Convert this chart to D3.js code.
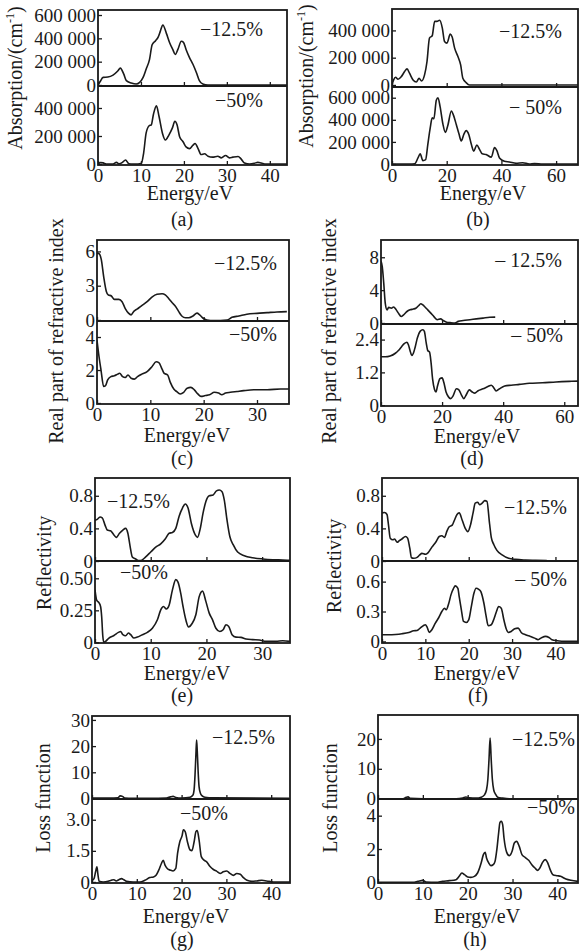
<!DOCTYPE html>
<html><head><meta charset="utf-8">
<script src="https://cdn.jsdelivr.net/npm/d3@7"></script>
<style>
body{margin:0;background:#fff}
svg text{font-family:"Liberation Serif","Times New Roman",serif;fill:#1a1a1a}
</style></head><body>
<svg id="chart" width="579" height="952"></svg>
<script>
// ---------------- DATA (energy eV, value) ----------------
const absA_125 = [[0,0],[0.5,30000],[1.2,65000],[2.3,68000],[3.5,85000],[4.6,120000],[5.2,145000],[6,93000],[6.6,37000],[7.75,17000],[8.9,8000],[9.7,22000],[10.5,65000],[11.2,135000],[12,220000],[12.6,345000],[13.4,380000],[14,410000],[14.5,460000],[15.1,515000],[15.9,445000],[16.7,360000],[17.4,305000],[18,262000],[18.6,305000],[19.4,375000],[19.9,366000],[20.5,305000],[21.3,235000],[22.1,178000],[22.9,107000],[23.6,37000],[24.4,8000],[25.6,0],[30,0],[44,0]];
const absA_50 = [[0,0],[0.6,10000],[1.2,8000],[1.9,0],[3.5,0],[4.3,12000],[4.9,2000],[5.7,12000],[6.4,29000],[7.2,2000],[8.1,0],[9.3,0],[10.1,5000],[10.6,73000],[11.2,220000],[11.9,273000],[12.4,280000],[12.9,354000],[13.6,415000],[14.2,341000],[15,220000],[15.7,171000],[16.5,207000],[17.3,256000],[17.9,305000],[18.4,280000],[19,195000],[19.8,159000],[20.5,122000],[21.3,110000],[22.1,134000],[22.6,146000],[23.3,110000],[24,68000],[24.8,73000],[25.6,56000],[26.7,49000],[27.9,56000],[28.7,44000],[29.7,61000],[30.6,44000],[31.4,49000],[32.6,54000],[33.3,37000],[34.1,7000],[35.3,0],[36.4,5000],[37.2,12000],[38,7000],[39.1,0],[44,0]];
const absB_125 = [[0,0],[0.6,37000],[1.3,56000],[2.2,42000],[3.4,61000],[4.6,98000],[5.5,118000],[6.4,86000],[7.7,37000],[8.9,22000],[9.9,49000],[10.8,29000],[11.9,74000],[12.8,172000],[13.7,344000],[14.7,361000],[15.6,466000],[16.4,466000],[17.4,474000],[18.4,417000],[19.2,319000],[20.1,307000],[21.3,373000],[22,351000],[22.9,270000],[24.1,209000],[25.1,147000],[25.9,49000],[27.1,17000],[28.3,0],[68,0]];
const absB_50 = [[0,0],[6.4,0],[8.3,2000],[9.5,55000],[10.3,92000],[11.3,31000],[12.3,40000],[13.1,178000],[14,332000],[14.7,418000],[15.3,409000],[16.2,578000],[16.8,600000],[17.6,517000],[18.6,363000],[19.5,286000],[20.4,348000],[21.7,480000],[22.5,440000],[23.5,357000],[24.5,271000],[25.3,209000],[26.3,271000],[27.1,302000],[28.1,265000],[29,178000],[29.9,117000],[31,172000],[32,132000],[33,92000],[34.4,86000],[36.3,62000],[37.5,148000],[38.3,123000],[39.3,55000],[41.1,25000],[42.9,18000],[45.4,6000],[47.8,12000],[50.2,0],[52.1,5000],[55.1,0],[68,0]];
const nC_125 = [[0,5.85],[0.4,5.8],[0.8,5.3],[1.25,3.8],[1.75,2.5],[2.1,2.2],[2.7,2.1],[3.25,1.8],[4.1,1.8],[4.7,1.6],[5.3,1.0],[5.9,0.6],[6.4,0.45],[6.9,0.75],[7.5,0.95],[8.4,1.25],[9.4,1.6],[10.3,2.0],[11.25,2.25],[12.2,2.3],[12.8,2.2],[13.4,1.9],[14.1,1.5],[14.7,1.2],[15.3,0.75],[15.9,0.35],[16.6,0.2],[17.2,0.2],[18,0.35],[18.75,0.6],[19.25,0.45],[19.9,0.15],[20.6,0.0],[21.9,-0.05],[24.4,0],[25.3,0.23],[26.6,0.35],[28.1,0.5],[30,0.58],[31.9,0.64],[33.75,0.7],[35.6,0.73]];
const nC_50 = [[0,3.8],[0.3,3.0],[0.75,2.0],[1.25,1.0],[1.6,1.05],[2,1.4],[2.6,1.6],[3.25,1.65],[3.9,1.75],[4.25,1.8],[4.8,1.6],[5.3,1.55],[5.8,1.7],[6.4,1.5],[7,1.45],[7.6,1.6],[8.4,1.75],[9.4,1.9],[10.3,2.2],[11.1,2.5],[11.6,2.45],[12.2,2.05],[12.6,1.8],[13.25,1.7],[13.75,1.25],[14.4,0.85],[14.9,0.7],[15.6,0.55],[16.25,0.65],[16.9,0.9],[17.6,0.95],[18.25,0.8],[18.9,0.55],[19.5,0.4],[20.3,0.45],[21.1,0.5],[22,0.65],[22.8,0.6],[23.4,0.5],[24.1,0.6],[25,0.65],[26.25,0.7],[27.5,0.75],[29.4,0.8],[31.9,0.8],[34.4,0.85],[36,0.85]];
const nD_125 = [[0,7.5],[0.4,6.9],[0.9,4.85],[1.4,2.4],[2,1.6],[2.5,1.9],[3.4,1.8],[4.1,1.95],[5,1.6],[5.7,1.2],[6.6,0.8],[7.4,1.0],[8.5,1.4],[9.5,1.6],[10.6,1.7],[11.4,1.8],[12.3,2.1],[13,2.35],[13.7,2.2],[14.4,1.95],[15.3,1.6],[16.3,1.2],[17.4,0.75],[18.4,0.4],[19.5,0.5],[20.4,0.3],[21.5,0.1],[22.6,0.05],[24.2,0],[25.3,0.2],[26.9,0.3],[29.1,0.4],[31.2,0.5],[33.4,0.6],[35.6,0.7],[37.4,0.72]];
const nD_50 = [[0,1.77],[1.4,1.77],[3,1.8],[4.7,1.9],[5.7,2.0],[6.8,2.15],[7.6,2.25],[8.5,2.3],[9,2.2],[9.5,2.0],[10.1,1.82],[10.6,1.9],[11.2,2.13],[11.9,2.46],[12.8,2.7],[13.7,2.76],[14.2,2.7],[14.8,2.28],[15.3,2.0],[15.9,1.94],[16.4,1.55],[16.9,0.95],[17.5,0.58],[18,0.48],[18.5,0.7],[19.3,0.97],[20,1.0],[20.6,0.82],[21.3,0.48],[22,0.32],[22.8,0.24],[23.6,0.34],[24.7,0.6],[25.5,0.56],[26.4,0.36],[27.1,0.24],[28,0.4],[28.9,0.56],[29.9,0.48],[30.7,0.44],[31.8,0.53],[33.4,0.6],[35,0.68],[36.1,0.73],[36.9,0.64],[37.7,0.52],[38.8,0.6],[40.5,0.7],[42.6,0.73],[45.3,0.76],[48.6,0.8],[52.9,0.82],[57.3,0.85],[61.6,0.87],[64.5,0.88]];
const RE_125 = [[0,0.50],[0.4,0.51],[0.9,0.54],[1.3,0.53],[1.8,0.44],[2.2,0.38],[2.8,0.37],[3.4,0.32],[3.8,0.29],[4.4,0.34],[5,0.38],[5.5,0.40],[5.9,0.34],[6.3,0.18],[6.7,0.05],[7.3,0.025],[7.9,0.005],[8.4,0.01],[9.1,0.05],[10,0.11],[10.9,0.17],[11.8,0.21],[12.6,0.27],[13.3,0.34],[13.9,0.35],[14.5,0.40],[15.1,0.55],[15.7,0.65],[16.2,0.70],[16.7,0.65],[17.3,0.46],[18,0.32],[18.4,0.29],[18.9,0.40],[19.4,0.59],[19.9,0.73],[20.5,0.80],[21.2,0.81],[21.8,0.86],[22.3,0.87],[22.8,0.85],[23.2,0.75],[23.7,0.50],[24.2,0.30],[24.8,0.20],[25.6,0.11],[26.8,0.065],[28.3,0.04],[30.1,0.025],[31.9,0.016],[33.7,0.012],[35,0.008]];
const RE_50 = [[0,0.41],[0.3,0.33],[0.7,0.31],[1,0.28],[1.2,0.20],[1.4,0.05],[1.6,0],[1.9,0.008],[2.5,0.034],[3.4,0.054],[4.2,0.078],[4.6,0.085],[5,0.06],[5.5,0.052],[6,0.073],[6.4,0.06],[7,0.034],[7.6,0.041],[8.5,0.06],[9.4,0.078],[10.3,0.11],[11.2,0.176],[11.8,0.254],[12.3,0.28],[12.8,0.26],[13.3,0.29],[13.9,0.41],[14.5,0.49],[14.9,0.47],[15.4,0.38],[15.8,0.28],[16.3,0.176],[16.8,0.12],[17.4,0.145],[18.1,0.215],[18.7,0.357],[19.3,0.40],[19.9,0.32],[20.5,0.228],[21.1,0.176],[21.7,0.11],[22.4,0.085],[23,0.098],[23.5,0.137],[24,0.124],[24.6,0.06],[25.3,0.041],[26.2,0.039],[27.1,0.026],[28.3,0.021],[29.5,0.018],[30.7,0.008],[32.5,0.008],[33.7,0.013],[35,0.008]];
const RF_125 = [[0,0.59],[0.6,0.595],[1.15,0.57],[1.5,0.44],[1.9,0.28],[2.5,0.26],[2.9,0.27],[3.5,0.23],[4,0.25],[4.6,0.27],[5.4,0.30],[5.9,0.28],[6.4,0.16],[6.8,0.04],[7.3,0.033],[8.1,0.045],[8.7,0.074],[9.2,0.094],[10,0.082],[10.6,0.10],[11.5,0.17],[12.5,0.24],[13.2,0.30],[13.8,0.31],[14.4,0.29],[15,0.37],[15.5,0.42],[16.2,0.44],[16.7,0.50],[17.3,0.57],[17.8,0.59],[18.5,0.50],[19.2,0.40],[19.8,0.36],[20.4,0.44],[21,0.59],[21.5,0.71],[22.1,0.72],[22.5,0.69],[23.1,0.71],[23.7,0.74],[24.2,0.73],[24.8,0.46],[25.2,0.29],[25.8,0.20],[26.5,0.13],[27.7,0.074],[29.2,0.033],[30.8,0.02],[33.1,0.012],[35.4,0.008],[38,0.004]];
const RF_50 = [[0,0.067],[1.5,0.067],[3.1,0.07],[4.6,0.077],[6.2,0.09],[7.3,0.107],[8.1,0.11],[8.8,0.133],[9.6,0.16],[10,0.167],[10.4,0.143],[10.9,0.09],[11.5,0.117],[12.3,0.183],[13.1,0.24],[13.8,0.30],[14.4,0.333],[14.8,0.317],[15.4,0.383],[15.9,0.467],[16.5,0.533],[16.9,0.557],[17.5,0.533],[17.8,0.45],[18.3,0.317],[18.8,0.20],[19.4,0.19],[20,0.217],[20.6,0.35],[21.2,0.483],[21.7,0.533],[22.3,0.523],[22.8,0.50],[23.5,0.383],[24,0.257],[24.5,0.157],[25.2,0.167],[25.8,0.223],[26.4,0.30],[26.9,0.35],[27.5,0.333],[28.1,0.217],[28.6,0.133],[29.2,0.09],[29.8,0.10],[30.6,0.127],[31.4,0.133],[32.1,0.09],[33.1,0.067],[34.2,0.05],[35.2,0.033],[36,0.017],[36.9,0.04],[37.7,0.05],[38.5,0.04],[39.2,0.017],[40.4,0.007],[42.3,0],[45.2,0]];
const LG_125 = [[0,0.2],[4,0.2],[5.8,0.3],[6.3,1.0],[6.8,0.8],[7.3,0.2],[9.2,0.1],[12.9,0.1],[16.6,0.2],[17.5,0.6],[18.1,0.8],[18.7,0.4],[20,0.2],[21.9,0.5],[22.5,1.2],[22.8,3.5],[23.0,9],[23.2,17],[23.35,22.3],[23.5,18],[23.7,10],[23.9,4.5],[24.2,2],[24.6,1],[25.2,0.5],[27.1,0.25],[44,0.1]];
const LG_50 = [[0,0.08],[0.45,0.16],[0.8,0.49],[1.1,0.73],[1.3,0.4],[1.6,0.03],[2.5,0],[3.6,0.03],[4.3,0.08],[4.9,0.11],[5.4,0.05],[6,0.11],[6.6,0.16],[7.1,0.11],[7.7,0.03],[9.2,0],[10.7,0],[11.8,0.08],[12.9,0.21],[13.7,0.24],[14.3,0.32],[14.9,0.57],[15.5,0.89],[15.9,1.05],[16.3,0.81],[16.8,0.65],[17.5,0.57],[18.1,0.53],[18.7,0.65],[19.1,1.38],[19.6,1.94],[20.1,2.22],[20.4,2.51],[20.8,2.43],[21.3,1.94],[21.9,1.54],[22.3,1.51],[22.8,1.94],[23.2,2.43],[23.5,2.48],[23.9,2.03],[24.4,1.22],[25,1.05],[25.6,0.97],[26.3,0.76],[27.1,0.6],[27.8,0.52],[28.6,0.41],[29.3,0.49],[30.1,0.53],[30.8,0.41],[31.6,0.32],[32.3,0.41],[33.1,0.37],[33.8,0.21],[34.6,0.08],[35.7,0.03],[36.8,0.05],[37.9,0.08],[39,0.05],[40.5,0],[44.3,0]];
const LH_125 = [[0,0],[5.6,0],[6.3,0.45],[6.7,0.6],[7.2,0.1],[10,0],[17.4,0],[18.9,0.2],[19.6,0.55],[20.4,0.3],[21.9,0.2],[23,0.5],[23.7,1.2],[24.2,3],[24.5,6.5],[24.75,13],[25,20.3],[25.25,13],[25.5,6.5],[25.8,3],[26.2,1.5],[26.7,0.5],[27.8,0.2],[29.3,0],[45,0]];
const LH_50 = [[0,0],[7.8,0],[8.9,0.06],[10,0.12],[10.7,0.02],[13,0],[14.4,0.06],[15.9,0.1],[17.4,0.16],[18.1,0.36],[18.7,0.56],[19.3,0.46],[20,0.32],[20.7,0.3],[21.5,0.36],[22.2,0.56],[23,1.16],[23.5,1.66],[23.9,1.8],[24.2,1.46],[24.7,1.16],[25.2,1.0],[25.7,1.06],[26.1,1.26],[26.5,1.96],[26.9,2.96],[27.2,3.6],[27.5,3.66],[27.8,3.46],[28.1,2.66],[28.7,1.8],[29.3,1.6],[29.9,1.86],[30.4,2.36],[30.9,2.46],[31.5,2.16],[32.1,1.66],[32.8,1.5],[33.6,1.32],[34.3,1.06],[35,0.86],[35.6,0.72],[36.1,0.86],[36.7,1.2],[37.3,1.36],[37.8,1.2],[38.4,0.76],[39,0.46],[40,0.4],[40.7,0.36],[41.9,0.2],[43,0.12],[44.6,0.06]];

// tick values and labels
const absTicks = [0, 200000, 400000, 600000];
const absTickLabels = ["0", "200 000", "400 000", "600 000"];
const xTicks10 = [0, 10, 20, 30, 40];
const xTicks20 = [0, 20, 40, 60];
const strainLabels = ["−12.5%", "−50%"];

// ---------------- LAYOUT ----------------
const panels = [
 {x0:98, x1:287, top:10, div:86, bot:165, xDom:[0,44], xt:xTicks10,
  subs:[{d:absA_125, yDom:[-8600,643000], yt:absTicks, yl:absTickLabels, lab:strainLabels[0], lx:263, ly:36, la:"end"},
        {d:absA_50, yDom:[-7000,557000], yt:absTicks.slice(0,3), yl:absTickLabels.slice(0,3), lab:strainLabels[1], lx:263, ly:107, la:"end"}],
  ylab:"abs", yx:22, yy:78, ex:190, ey:200, cap:"(a)", cx:182, cy:226},
 {x0:392, x1:578, top:9, div:87, bot:165, xDom:[0,68], xt:xTicks20,
  subs:[{d:absB_125, yDom:[-15000,557000], yt:absTicks.slice(0,3), yl:absTickLabels.slice(0,3), lab:strainLabels[0], lx:562, ly:38, la:"end"},
        {d:absB_50, yDom:[-9000,697000], yt:absTicks, yl:absTickLabels, lab:"− 50%", lx:562, ly:114, la:"end"}],
  ylab:"abs", yx:313, yy:76, ex:483, ey:200, cap:"(b)", cx:478, cy:226},
 {x0:97, x1:289, top:240, div:321, bot:404, xDom:[0,36], xt:[0,10,20,30],
  subs:[{d:nC_125, yDom:[-0.09,7.0], yt:[0,3,6], yl:["0","3","6"], lab:strainLabels[0], lx:277, ly:270, la:"end"},
        {d:nC_50, yDom:[-0.06,4.97], yt:[0,2,4], yl:["0","2","4"], lab:strainLabels[1], lx:277, ly:341, la:"end"}],
  ylab:"Real part of refractive index", yx:63, yy:331, ex:187, ey:442, cap:"(c)", cx:182, cy:465},
 {x0:381, x1:578, top:240, div:324, bot:406, xDom:[0,64.5], xt:xTicks20,
  subs:[{d:nD_125, yDom:[-0.12,10.1], yt:[0,4,8], yl:["0","4","8"], lab:"– 12.5%", lx:562, ly:267, la:"end"},
        {d:nD_50, yDom:[-0.03,2.97], yt:[0,1.2,2.4], yl:["0","1.2","2.4"], lab:"– 50%", lx:563, ly:342, la:"end"}],
  ylab:"Real part of refractive index", yx:336, yy:331, ex:477, ey:443, cap:"(d)", cx:472, cy:465},
 {x0:95, x1:290, top:478, div:561, bot:643, xDom:[0,35], xt:[0,10,20,30],
  subs:[{d:RE_125, yDom:[0,1.018], yt:[0,0.4,0.8], yl:["0","0.4","0.8"], lab:strainLabels[0], lx:107, ly:508, la:"start"},
        {d:RE_50, yDom:[-0.005,0.635], yt:[0,0.25,0.5], yl:["0","0.25","0.50"], lab:strainLabels[1], lx:120, ly:579, la:"start"}],
  ylab:"Reflectivity", yx:51, yy:563, ex:187, ey:680, cap:"(e)", cx:182, cy:702},
 {x0:382, x1:578, top:478, div:561, bot:643, xDom:[0,45.2], xt:xTicks10,
  subs:[{d:RF_125, yDom:[0,1.018], yt:[0,0.4,0.8], yl:["0","0.4","0.8"], lab:strainLabels[0], lx:567, ly:514, la:"end"},
        {d:RF_50, yDom:[-0.016,0.807], yt:[0,0.3,0.6], yl:["0","0.3","0.6"], lab:"– 50%", lx:567, ly:586, la:"end"}],
  ylab:"Reflectivity", yx:341, yy:566, ex:477, ey:680, cap:"(f)", cx:478, cy:702},
 {x0:92, x1:290, top:716, div:799, bot:883, xDom:[0,44.2], xt:xTicks10,
  subs:[{d:LG_125, yDom:[-0.2,31.5], yt:[0,10,20,30], yl:["0","10","20","30"], lab:strainLabels[0], lx:275, ly:744, la:"end"},
        {d:LG_50, yDom:[-0.05,4.0], yt:[0,1.5,3.0], yl:["0","1.5","3.0"], lab:strainLabels[1], lx:180, ly:820, la:"start"}],
  ylab:"Loss function", yx:50, yy:798, ex:186, ey:923, cap:"(g)", cx:182, cy:946},
 {x0:378, x1:578, top:715, div:799, bot:883, xDom:[0,44.6], xt:xTicks10,
  subs:[{d:LH_125, yDom:[-0.1,28], yt:[0,10,20], yl:["0","10","20"], lab:strainLabels[0], lx:575, ly:746, la:"end"},
        {d:LH_50, yDom:[-0.04,5.0], yt:[0,2,4], yl:["0","2","4"], lab:strainLabels[1], lx:575, ly:814, la:"end"}],
  ylab:"Loss function", yx:337, yy:798, ex:477, ey:923, cap:"(h)", cx:475, cy:946}
];

const INK = "#1a1a1a";
const svg = d3.select("#chart");
let clipId = 0;

panels.forEach(p => {
  const g = svg.append("g");
  const x = d3.scaleLinear().domain(p.xDom).range([p.x0, p.x1]);
  const ranges = [[p.div, p.top], [p.bot, p.div]];

  p.subs.forEach((s, i) => {
    const y = d3.scaleLinear().domain(s.yDom).range(ranges[i]);
    const cid = "clip" + (clipId++);
    svg.append("clipPath").attr("id", cid).append("rect")
      .attr("x", p.x0).attr("y", ranges[i][1]).attr("width", p.x1 - p.x0).attr("height", ranges[i][0] - ranges[i][1]);

    const line = d3.line().x(d => x(d[0])).y(d => y(d[1])).curve(d3.curveMonotoneX);
    g.append("path").datum(s.d).attr("clip-path", `url(#${cid})`)
      .attr("d", line).attr("fill", "none").attr("stroke", INK).attr("stroke-width", 1.6)
      .attr("stroke-linejoin", "round");

    const xa = d3.axisBottom(x).tickValues(p.xt).tickSizeInner(-4).tickSizeOuter(0).tickPadding(3)
      .tickFormat(i === 1 ? d3.format("d") : () => "");
    const gx = g.append("g").attr("transform", `translate(0,${ranges[i][0]})`).call(xa);
    gx.select(".domain").remove();
    gx.selectAll("line").attr("stroke", INK).attr("stroke-width", 1.3);
    gx.selectAll("text").attr("font-size", 19).attr("fill", INK);

    const ya = d3.axisLeft(y).tickValues(s.yt).tickSizeInner(-4).tickSizeOuter(0).tickPadding(2)
      .tickFormat((d, k) => s.yl[k]);
    const gy = g.append("g").attr("transform", `translate(${p.x0},0)`).call(ya);
    gy.select(".domain").remove();
    gy.selectAll("line").attr("stroke", INK).attr("stroke-width", 1.3);
    gy.selectAll("text").attr("font-size", 19).attr("fill", INK);

    g.append("text").attr("x", s.lx).attr("y", s.ly).attr("text-anchor", s.la)
      .attr("font-size", 20).text(s.lab);
  });

  g.append("rect").attr("x", p.x0).attr("y", p.top).attr("width", p.x1 - p.x0).attr("height", p.bot - p.top)
    .attr("fill", "none").attr("stroke", INK).attr("stroke-width", 1.8);
  g.append("line").attr("x1", p.x0).attr("x2", p.x1).attr("y1", p.div).attr("y2", p.div)
    .attr("stroke", INK).attr("stroke-width", 1.8);

  const yt = g.append("text").attr("transform", `translate(${p.yx},${p.yy}) rotate(-90)`)
    .attr("text-anchor", "middle").attr("font-size", 20);
  if (p.ylab === "abs") {
    yt.append("tspan").text("Absorption/(cm");
    yt.append("tspan").attr("font-size", 12).attr("dy", -8).text("-1");
    yt.append("tspan").attr("dy", 8).text(")");
  } else {
    yt.text(p.ylab);
  }
  g.append("text").attr("x", p.ex).attr("y", p.ey).attr("text-anchor", "middle").attr("font-size", 20).text("Energy/eV");
  g.append("text").attr("x", p.cx).attr("y", p.cy).attr("text-anchor", "middle").attr("font-size", 20).text(p.cap);
});
</script>
</body></html>
